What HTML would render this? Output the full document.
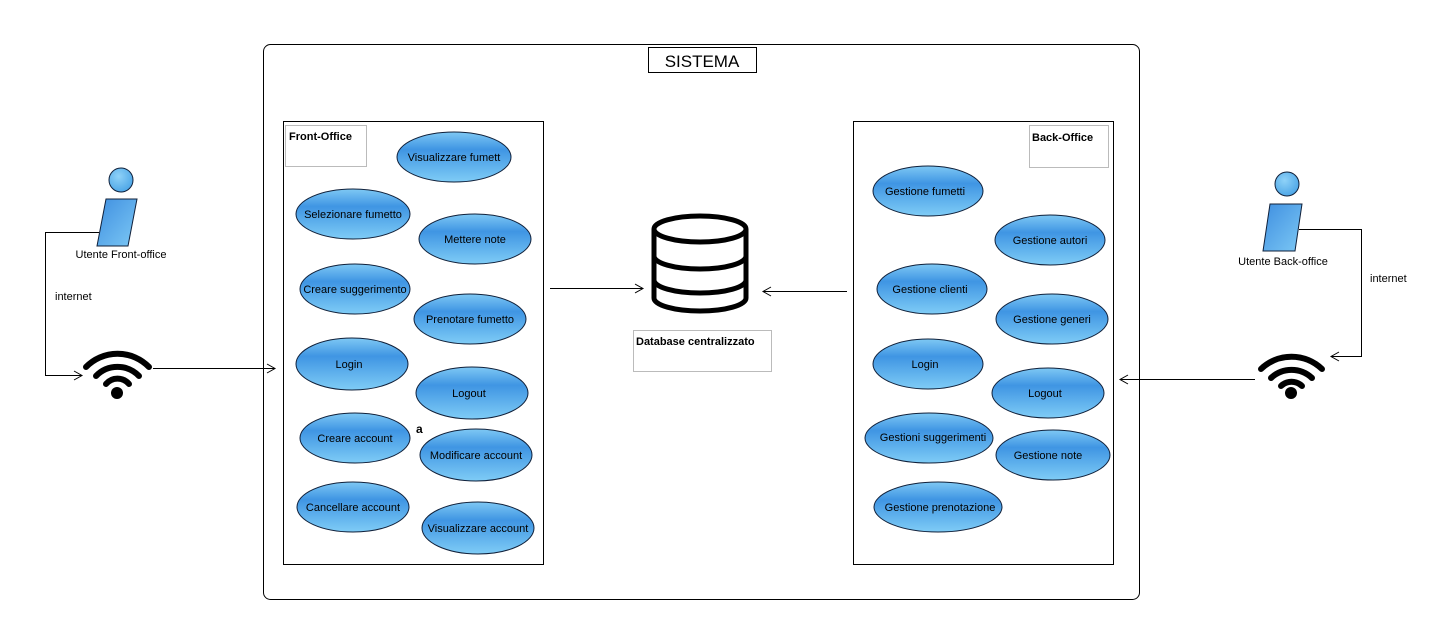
<!DOCTYPE html>
<html><head><meta charset="utf-8"><style>
html,body{margin:0;padding:0;background:#fff;}
svg{display:block;font-family:"Liberation Sans",Arial,sans-serif;}
</style></head><body>
<svg width="1434" height="629" viewBox="0 0 1434 629" xmlns="http://www.w3.org/2000/svg">
<defs>
<linearGradient id="g" x1="0" y1="0" x2="0" y2="1">
<stop offset="0" stop-color="#7ec8f4"/><stop offset="0.35" stop-color="#3f95e3"/><stop offset="1" stop-color="#7fccf6"/>
</linearGradient>
<linearGradient id="gb" x1="0" y1="0" x2="1" y2="1">
<stop offset="0" stop-color="#3f8fe0"/><stop offset="1" stop-color="#7cc8f5"/>
</linearGradient>
<radialGradient id="gh" cx="0.4" cy="0.35" r="0.7"><stop offset="0" stop-color="#8fd2f8"/><stop offset="1" stop-color="#4aa4e6"/></radialGradient>
</defs>
<rect x="263.5" y="44.5" width="876" height="555" rx="7" fill="none" stroke="#000"/>
<rect x="648.5" y="47.5" width="108" height="25" fill="#fff" stroke="#000"/>
<text x="702" y="67" font-size="17" text-anchor="middle">SISTEMA</text>
<rect x="283.5" y="121.5" width="260" height="443" fill="none" stroke="#000"/>
<rect x="853.5" y="121.5" width="260" height="443" fill="none" stroke="#000"/>
<rect x="285.5" y="125.5" width="81" height="41" fill="#fff" stroke="#bbb"/>
<text x="289" y="140" font-size="11" font-weight="bold">Front-Office</text>
<rect x="1029.5" y="125.5" width="79" height="42" fill="#fff" stroke="#bbb"/>
<text x="1032" y="141" font-size="11" font-weight="bold">Back-Office</text>
<g stroke="#10203a" stroke-width="1" fill="url(#g)">
<ellipse cx="454" cy="157" rx="57" ry="25"/>
<ellipse cx="353" cy="214" rx="57" ry="25"/>
<ellipse cx="475" cy="239" rx="56" ry="25"/>
<ellipse cx="355" cy="289" rx="55" ry="25"/>
<ellipse cx="470" cy="319" rx="56" ry="25"/>
<ellipse cx="352" cy="364" rx="56" ry="26"/>
<ellipse cx="472" cy="393" rx="56" ry="26"/>
<ellipse cx="355" cy="438" rx="55" ry="25"/>
<ellipse cx="476" cy="455" rx="56" ry="26"/>
<ellipse cx="353" cy="507" rx="56" ry="25"/>
<ellipse cx="478" cy="528" rx="56" ry="26"/>
<ellipse cx="928" cy="191" rx="55" ry="25"/>
<ellipse cx="1050" cy="240" rx="55" ry="25"/>
<ellipse cx="932" cy="289" rx="55" ry="25"/>
<ellipse cx="1052" cy="319" rx="56" ry="25"/>
<ellipse cx="928" cy="364" rx="55" ry="25"/>
<ellipse cx="1048" cy="393" rx="56" ry="25"/>
<ellipse cx="929" cy="438" rx="64" ry="25"/>
<ellipse cx="1053" cy="455" rx="57" ry="25"/>
<ellipse cx="938" cy="507" rx="64" ry="25"/>
</g>
<g font-size="11" text-anchor="middle" fill="#000">
<text x="454" y="161">Visualizzare fumett</text>
<text x="353" y="218">Selezionare fumetto</text>
<text x="475" y="243">Mettere note</text>
<text x="355" y="293">Creare suggerimento</text>
<text x="470" y="323">Prenotare fumetto</text>
<text x="349" y="368">Login</text>
<text x="469" y="397">Logout</text>
<text x="355" y="442">Creare account</text>
<text x="476" y="459">Modificare account</text>
<text x="353" y="511">Cancellare account</text>
<text x="478" y="532">Visualizzare account</text>
<text x="925" y="195">Gestione fumetti</text>
<text x="1050" y="244">Gestione autori</text>
<text x="930" y="293">Gestione clienti</text>
<text x="1052" y="323">Gestione generi</text>
<text x="925" y="368">Login</text>
<text x="1045" y="397">Logout</text>
<text x="933" y="441">Gestioni suggerimenti</text>
<text x="1048" y="459">Gestione note</text>
<text x="940" y="511">Gestione prenotazione</text>
</g>
<text x="416" y="433" font-size="12" font-weight="bold">a</text>
<!-- database -->
<g fill="none" stroke="#000" stroke-width="5">
<path d="M654 229 V298 A46 13 0 0 0 746 298 V229"/>
<ellipse cx="700" cy="229" rx="46" ry="13"/>
<path d="M654 256 A46 13 0 0 0 746 256"/>
<path d="M654 280 A46 13 0 0 0 746 280"/>
</g>
<rect x="633.5" y="330.5" width="138" height="41" fill="#fff" stroke="#bbb"/>
<text x="636" y="345" font-size="11" font-weight="bold">Database centralizzato</text>
<!-- connectors -->
<g fill="none" stroke="#000" stroke-width="1">
<path d="M550 288.5 H643 M635 284 L643 288.5 L635 293"/>
<path d="M847 291.5 H763 M771 287 L763 291.5 L771 296"/>
<path d="M99 232.5 H45.5 V375.5 H82 M74 371 L82 375.5 L74 380"/>
<path d="M153 368.5 H275 M267 364 L275 368.5 L267 373"/>
<path d="M1299 229.5 H1361.5 V356.5 H1331 M1339 352 L1331 356.5 L1339 361"/>
<path d="M1255 379.5 H1120 M1128 375 L1120 379.5 L1128 384"/>
</g>
<!-- actors -->
<circle cx="121" cy="180" r="12" fill="url(#gh)" stroke="#10203a"/>
<path d="M106 199 H137 L128 246 H97 Z" fill="url(#gb)" stroke="#10203a"/>
<text x="121" y="258" font-size="11" text-anchor="middle">Utente Front-office</text>
<text x="55" y="300" font-size="11">internet</text>
<circle cx="1287" cy="184" r="12" fill="url(#gh)" stroke="#10203a"/>
<path d="M1270 204 H1302 L1295 251 H1263 Z" fill="url(#gb)" stroke="#10203a"/>
<text x="1283" y="265" font-size="11" text-anchor="middle">Utente Back-office</text>
<text x="1370" y="282" font-size="11">internet</text>
<!-- wifi -->
<g fill="none" stroke="#000" stroke-width="6" stroke-linecap="round">
<path d="M86 367 A44 44 0 0 1 149 367"/>
<path d="M96 376 A30 30 0 0 1 139 376"/>
<path d="M106 384 A15 15 0 0 1 129 384"/>
<path d="M1261 369 A44 44 0 0 1 1322 369"/>
<path d="M1271 378 A30 30 0 0 1 1312 378"/>
<path d="M1281 386 A15 15 0 0 1 1302 386"/>
</g>
<circle cx="117" cy="393" r="6"/>
<circle cx="1291" cy="393" r="6"/>
</svg>
</body></html>
